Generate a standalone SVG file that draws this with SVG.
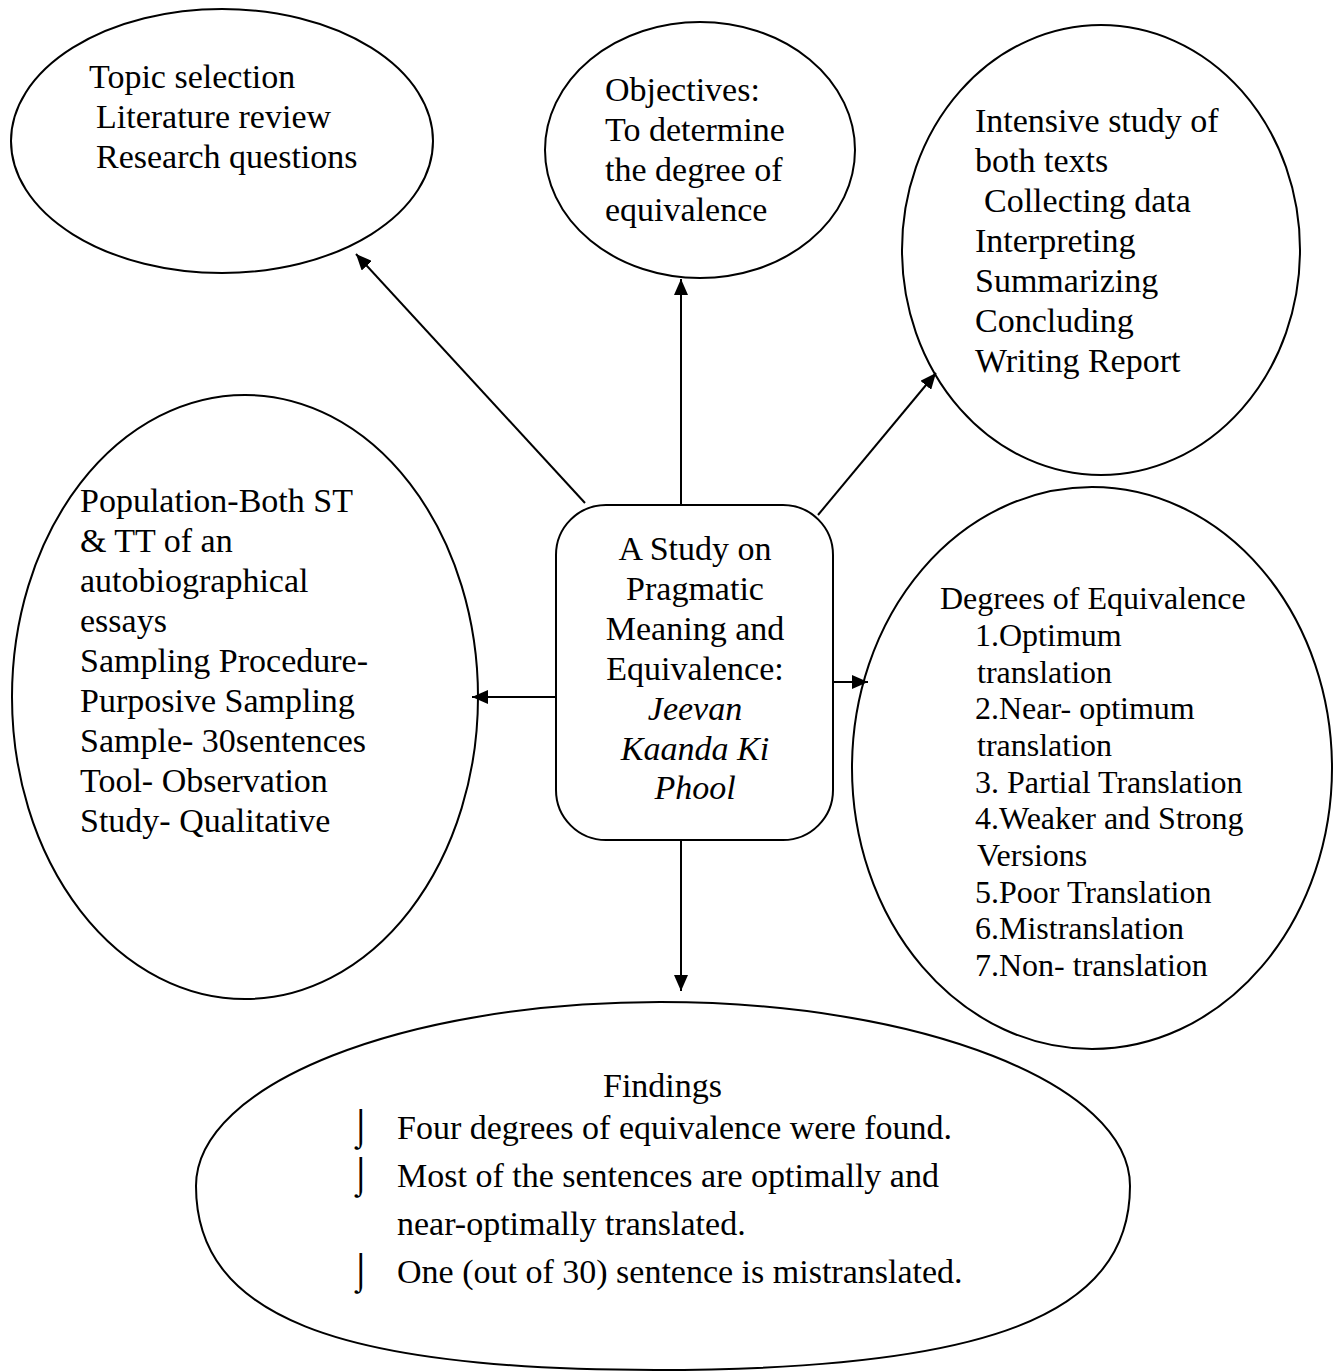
<svg xmlns="http://www.w3.org/2000/svg" width="1344" height="1371" viewBox="0 0 1344 1371">
<style>
.s{fill:none;stroke:#000;stroke-width:2}
.t{font-family:"Liberation Serif","Times New Roman",serif;font-size:34px;fill:#000}
.r{font-family:"Liberation Serif","Times New Roman",serif;font-size:32px;fill:#000}
.c{text-anchor:middle}
.i{font-style:italic}
.b{font-family:"DejaVu Sans",sans-serif;font-size:36px;font-weight:200;fill:#000}
</style>
<defs>
<marker id="ah" markerWidth="16" markerHeight="14" refX="16" refY="7" orient="auto" markerUnits="userSpaceOnUse">
<path d="M0,0 L16,7 L0,14 Z" fill="#000"/>
</marker>
</defs>
<rect width="1344" height="1371" fill="#fff"/>
<g id="connectors">
<line class="s" x1="585" y1="503" x2="356" y2="254" marker-end="url(#ah)"/>
<line class="s" x1="681" y1="505" x2="681" y2="279" marker-end="url(#ah)"/>
<line class="s" x1="818" y1="515" x2="936" y2="373" marker-end="url(#ah)"/>
<line class="s" x1="556" y1="697" x2="472" y2="697" marker-end="url(#ah)"/>
<line class="s" x1="833" y1="682" x2="868" y2="682" marker-end="url(#ah)"/>
<line class="s" x1="681" y1="840" x2="681" y2="991" marker-end="url(#ah)"/>
</g>
<g id="topic">
<ellipse class="s" cx="222" cy="141" rx="211" ry="132"/>
<text class="t" x="89" y="88">Topic selection</text>
<text class="t" x="96" y="128">Literature review</text>
<text class="t" x="96" y="168">Research questions</text>
</g>
<g id="objectives">
<ellipse class="s" cx="700" cy="150" rx="155" ry="128"/>
<text class="t" x="605" y="101">Objectives:</text>
<text class="t" x="605" y="141">To determine</text>
<text class="t" x="605" y="181">the degree of</text>
<text class="t" x="605" y="221">equivalence</text>
</g>
<g id="procedure">
<ellipse class="s" cx="1101" cy="250" rx="199" ry="225"/>
<text class="t" x="975" y="132">Intensive study of</text>
<text class="t" x="975" y="172">both texts</text>
<text class="t" x="984" y="212">Collecting data</text>
<text class="t" x="975" y="252">Interpreting</text>
<text class="t" x="975" y="292">Summarizing</text>
<text class="t" x="975" y="332">Concluding</text>
<text class="t" x="975" y="372">Writing Report</text>
</g>
<g id="methodology">
<ellipse class="s" cx="245" cy="697" rx="233" ry="302"/>
<text class="t" x="80" y="512">Population-Both ST</text>
<text class="t" x="80" y="552">&amp; TT of an</text>
<text class="t" x="80" y="592">autobiographical</text>
<text class="t" x="80" y="632">essays</text>
<text class="t" x="80" y="672">Sampling Procedure-</text>
<text class="t" x="80" y="712">Purposive Sampling</text>
<text class="t" x="80" y="752">Sample- 30sentences</text>
<text class="t" x="80" y="792">Tool- Observation</text>
<text class="t" x="80" y="832">Study- Qualitative</text>
</g>
<g id="center">
<rect class="s" x="556" y="505" width="277" height="335" rx="50" ry="50"/>
<text class="t c" x="695" y="560">A Study on</text>
<text class="t c" x="695" y="600">Pragmatic</text>
<text class="t c" x="695" y="640">Meaning and</text>
<text class="t c" x="695" y="680">Equivalence:</text>
<text class="t c i" x="695" y="720">Jeevan</text>
<text class="t c i" x="695" y="760">Kaanda Ki</text>
<text class="t c i" x="695" y="799">Phool</text>
</g>
<g id="degrees">
<ellipse class="s" cx="1092" cy="768" rx="240" ry="281"/>
<text class="r" x="940" y="609">Degrees of Equivalence</text>
<text class="r" x="975" y="646">1.Optimum</text>
<text class="r" x="977" y="683">translation</text>
<text class="r" x="975" y="719">2.Near- optimum</text>
<text class="r" x="977" y="756">translation</text>
<text class="r" x="975" y="793">3. Partial Translation</text>
<text class="r" x="975" y="829">4.Weaker and Strong</text>
<text class="r" x="977" y="866">Versions</text>
<text class="r" x="975" y="903">5.Poor Translation</text>
<text class="r" x="975" y="939">6.Mistranslation</text>
<text class="r" x="975" y="976">7.Non- translation</text>
</g>
<g id="findings">
<path class="s" d="M196,1186 C196,1315 334,1370 655,1370 C988,1370 1130,1315 1130,1186 C1130,1084 920,1002 660,1002 C404,1002 196,1084 196,1186 Z"/>
<text class="t" x="603" y="1097">Findings</text>
<text class="b" x="350" y="1139">⌡</text>
<text class="t" x="397" y="1139">Four degrees of equivalence were found.</text>
<text class="b" x="350" y="1187">⌡</text>
<text class="t" x="397" y="1187">Most of the sentences are optimally and</text>
<text class="t" x="397" y="1235">near-optimally translated.</text>
<text class="b" x="350" y="1283">⌡</text>
<text class="t" x="397" y="1283">One (out of 30) sentence is mistranslated.</text>
</g>
</svg>
